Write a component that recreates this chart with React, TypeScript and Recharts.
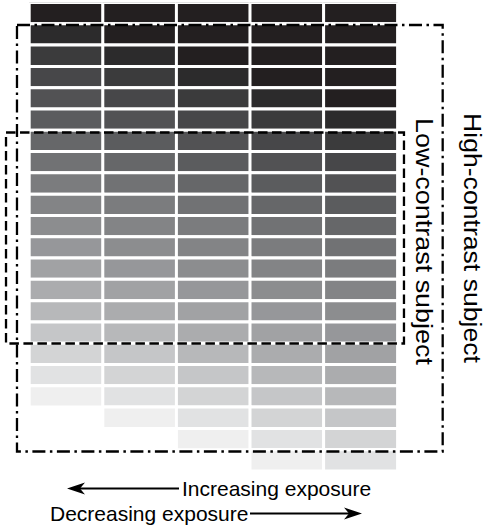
import React from 'react';
import { BarChart, Bar, XAxis, YAxis, Cell } from 'recharts';

// Five exposures (columns); each column is the same step wedge shifted down one step
const columns = ['E1', 'E2', 'E3', 'E4', 'E5'];
const columnShift = [0, 1, 2, 3, 4];
// Grey steps of the wedge, darkest to lightest
const wedgeGrays = [
  '#231f20', '#2c2b2c', '#3b3b3c', '#474749', '#525254', '#5b5c5e', '#666769',
  '#717274', '#7b7c7e', '#838486', '#8c8d8f', '#96979a', '#a1a2a4', '#abacae',
  '#b7b8ba', '#c5c6c8', '#d3d4d5', '#e1e2e3', '#efefef',
];
const rowKeys = [
  'r0', 'r1', 'r2', 'r3', 'r4', 'r5', 'r6', 'r7', 'r8', 'r9', 'r10',
  'r11', 'r12', 'r13', 'r14', 'r15', 'r16', 'r17', 'r18', 'r19', 'r20', 'r21',
];
// Subject ranges in (column, row) units
const highContrast = { x1: -0.166, x2: 5.618, y1: 1.057, y2: 21.085 };
const lowContrast = { x1: -0.315, x2: 5.092, y1: 6.105, y2: 16.013 };
const labels = {
  high: 'High-contrast subject',
  low: 'Low-contrast subject',
  inc: 'Increasing exposure',
  dec: 'Decreasing exposure',
};

const W = 484;
const H = 527;
const MARGIN = { top: 2.5, right: 86.8, bottom: 56, left: 29.2 };
const colPitch = (W - MARGIN.left - MARGIN.right) / columns.length;
const rowPitch = (H - MARGIN.top - MARGIN.bottom) / rowKeys.length;
const px = (x: number) => MARGIN.left + x * colPitch;
const py = (y: number) => MARGIN.top + y * rowPitch;

const data = columns.map((c) => {
  const o: Record<string, any> = { name: c };
  rowKeys.forEach((k) => (o[k] = 1));
  return o;
});

function cellGray(ci: number, r: number): string | null {
  const step = r - columnShift[ci];
  if (step < 0) return wedgeGrays[0];
  if (step >= wedgeGrays.length) return null;
  return wedgeGrays[step];
}

const FONT = '"Liberation Sans", Arial, Helvetica, sans-serif';

function ArrowHead({ x, y, dir }: { x: number; y: number; dir: 1 | -1 }) {
  const L = 18, h = 6, N = 13;
  const d = `M${x},${y} L${x - dir * L},${y - h} L${x - dir * N},${y} L${x - dir * L},${y + h} Z`;
  return <path d={d} fill="#000" stroke="none" />;
}

function Box({ b, dash }: { b: { x1: number; x2: number; y1: number; y2: number }; dash: string }) {
  const x = px(b.x1), y = py(b.y1);
  return (
    <rect
      x={x}
      y={y}
      width={px(b.x2) - x}
      height={py(b.y2) - y}
      fill="none"
      stroke="#000"
      strokeWidth={2.3}
      strokeDasharray={dash}
    />
  );
}

function Annotations() {
  return (
    <svg
      width={W}
      height={H}
      style={{ position: 'absolute', left: 0, top: 0, pointerEvents: 'none' }}
    >
      <Box b={highContrast} dash="13 4.5 2.5 4.5" />
      <Box b={lowContrast} dash="9.5 4.5" />
      <text
        transform="translate(464,113) rotate(90)"
        x={0}
        y={0}
        fontFamily={FONT}
        fontSize={23.5}
        textLength={250}
        lengthAdjust="spacingAndGlyphs"
        fill="#000"
      >
        {labels.high}
      </text>
      <text
        transform="translate(415.5,118) rotate(90)"
        x={0}
        y={0}
        fontFamily={FONT}
        fontSize={24}
        textLength={247}
        lengthAdjust="spacingAndGlyphs"
        fill="#000"
      >
        {labels.low}
      </text>
      <text x={182} y={495.5} fontFamily={FONT} fontSize={21} fill="#000">
        {labels.inc}
      </text>
      <line x1={179} y1={488.5} x2={75} y2={488.5} stroke="#000" strokeWidth={2} />
      <ArrowHead x={67} y={488.5} dir={-1} />
      <text x={50} y={520.5} fontFamily={FONT} fontSize={21} fill="#000">
        {labels.dec}
      </text>
      <line x1={250} y1={513.5} x2={353} y2={513.5} stroke="#000" strokeWidth={2} />
      <ArrowHead x={362} y={513.5} dir={1} />
    </svg>
  );
}

export default function App() {
  return (
    <div style={{ position: 'absolute', left: 0, top: 0, width: W, height: H, background: '#fff' }}>
      <BarChart
        width={W}
        height={H}
        data={data}
        margin={MARGIN}
        barCategoryGap={0}
        barGap={0}
      >
        <XAxis dataKey="name" hide />
        <YAxis type="number" domain={[0, rowKeys.length]} reversed hide allowDataOverflow />
        {rowKeys.map((k, r) => (
          <Bar
            key={k}
            dataKey={k}
            stackId="wedge"
            isAnimationActive={false}
            stroke="#fff"
            strokeWidth={3}
          >
            {columns.map((c, ci) => {
              const g = cellGray(ci, r);
              return <Cell key={c} fill={g ?? 'none'} stroke={g ? '#fff' : 'none'} />;
            })}
          </Bar>
        ))}
      </BarChart>
      <Annotations />
    </div>
  );
}
